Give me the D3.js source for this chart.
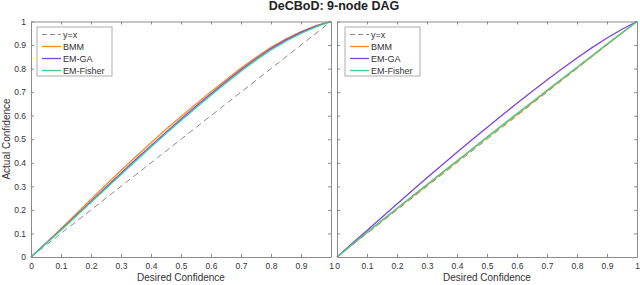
<!DOCTYPE html>
<html lang="en">
<head>
  <meta charset="UTF-8">
  <title>DeCBoD: 9-node DAG</title>
  <script src="https://d3js.org/d3.v7.min.js"></script>
  <style>
    body { margin: 0; background: #fff; }
    text { font-family: "Liberation Sans", Arial, sans-serif; }
  </style>
</head>
<body>
  <svg id="chart" width="640" height="285"></svg>

  <script>
    // desired confidence grid
    const desired = [0, 0.05, 0.1, 0.15, 0.2, 0.25, 0.3, 0.35, 0.4, 0.45, 0.5,
                     0.55, 0.6, 0.65, 0.7, 0.75, 0.8, 0.85, 0.9, 0.95, 1];

    // left panel actual confidence
    const leftBMM = [0, 0.06, 0.12, 0.183, 0.245, 0.307, 0.367, 0.427, 0.485, 0.542, 0.597,
                     0.65, 0.702, 0.753, 0.802, 0.848, 0.89, 0.926, 0.957, 0.982, 1];
    const leftGA = [0, 0.058, 0.116, 0.176, 0.236, 0.296, 0.356, 0.415, 0.473, 0.53, 0.586,
                    0.64, 0.693, 0.745, 0.795, 0.842, 0.885, 0.922, 0.954, 0.98, 1];
    const leftFisher = [0, 0.057, 0.114, 0.173, 0.232, 0.291, 0.35, 0.409, 0.467, 0.524, 0.58,
                        0.634, 0.687, 0.739, 0.789, 0.836, 0.879, 0.916, 0.949, 0.977, 1];

    // right panel actual confidence
    const rightBMM = [0, 0.052, 0.103, 0.154, 0.205, 0.255, 0.305, 0.356, 0.406, 0.456, 0.506,
                      0.556, 0.605, 0.655, 0.705, 0.754, 0.804, 0.853, 0.902, 0.951, 1];
    const rightGA = [0, 0.057, 0.113, 0.169, 0.225, 0.281, 0.337, 0.391, 0.445, 0.498, 0.55,
                     0.602, 0.653, 0.703, 0.752, 0.799, 0.845, 0.889, 0.93, 0.967, 1];
    const rightFisher = [0, 0.053, 0.105, 0.156, 0.207, 0.258, 0.308, 0.359, 0.409, 0.459, 0.509,
                         0.559, 0.609, 0.658, 0.708, 0.757, 0.806, 0.855, 0.904, 0.952, 1];

    const tickValues = [0, 0.1, 0.2, 0.3, 0.4, 0.5, 0.6, 0.7, 0.8, 0.9, 1];
    const tickLabels = ["0", "0.1", "0.2", "0.3", "0.4", "0.5", "0.6", "0.7", "0.8", "0.9", "1"];

    const seriesNames = ["y=x", "BMM", "EM-GA", "EM-Fisher"];
    const colors = { "y=x": "#8a8a8a", "BMM": "#ff8a1c", "EM-GA": "#7d43e0", "EM-Fisher": "#3fd08f" };

    const svg = d3.select("#chart");
    const axisColor = "#8c8c8c";

    svg.append("text")
      .attr("x", 334).attr("y", 10)
      .attr("text-anchor", "middle")
      .attr("font-size", 12.5).attr("font-weight", "bold")
      .attr("fill", "#222")
      .text("DeCBoD: 9-node DAG");

    svg.append("text")
      .attr("transform", "translate(10,139) rotate(-90)")
      .attr("text-anchor", "middle")
      .attr("font-size", 10).attr("fill", "#333")
      .text("Actual Confidence");

    const panels = [
      { x0: 31, x1: 331, showY: true, legendX: 37,
        data: { "y=x": desired, "BMM": leftBMM, "EM-GA": leftGA, "EM-Fisher": leftFisher } },
      { x0: 337, x1: 637, showY: false, legendX: 345,
        data: { "y=x": desired, "BMM": rightBMM, "EM-GA": rightGA, "EM-Fisher": rightFisher } }
    ];

    const y = d3.scaleLinear().domain([0, 1]).range([257, 21.5]);

    panels.forEach(p => {
      const x = d3.scaleLinear().domain([0, 1]).range([p.x0, p.x1]);
      const g = svg.append("g");

      const line = d3.line().x(d => x(d[0])).y(d => y(d[1]));

      seriesNames.forEach(name => {
        const pts = desired.map((d, i) => [d, p.data[name][i]]);
        g.append("path")
          .datum(pts)
          .attr("fill", "none")
          .attr("stroke", colors[name])
          .attr("stroke-width", name === "y=x" ? 1 : 1.3)
          .attr("stroke-dasharray", name === "y=x" ? "6,4" : null)
          .attr("d", line);
      });

      const fmt = (d, i) => tickLabels[i];

      const bottom = g.append("g").attr("transform", `translate(0,${y(0)})`)
        .call(d3.axisBottom(x).tickValues(tickValues).tickFormat(fmt).tickSizeInner(-3).tickSizeOuter(0).tickPadding(6));
      const top = g.append("g").attr("transform", `translate(0,${y(1)})`)
        .call(d3.axisTop(x).tickValues(tickValues).tickFormat("").tickSizeInner(-3).tickSizeOuter(0));
      const left = g.append("g").attr("transform", `translate(${p.x0},0)`)
        .call(d3.axisLeft(y).tickValues(tickValues).tickFormat(p.showY ? fmt : "").tickSizeInner(-3).tickSizeOuter(0).tickPadding(5));
      const right = g.append("g").attr("transform", `translate(${p.x1},0)`)
        .call(d3.axisRight(y).tickValues(tickValues).tickFormat("").tickSizeInner(-3).tickSizeOuter(0));

      [bottom, top, left, right].forEach(a => {
        a.selectAll("path, line").attr("stroke", axisColor);
        a.selectAll("text").attr("fill", "#333").attr("font-size", 8.5)
          .attr("font-family", "'Liberation Sans', Arial, sans-serif");
      });

      g.append("text")
        .attr("x", (p.x0 + p.x1) / 2).attr("y", 281)
        .attr("text-anchor", "middle")
        .attr("font-size", 10).attr("fill", "#333")
        .text("Desired Confidence");

      // legend
      const lg = g.append("g").attr("transform", `translate(${p.legendX},27)`);
      lg.append("rect")
        .attr("width", 75).attr("height", 49)
        .attr("fill", "#fff").attr("stroke", "#9a9a9a").attr("stroke-width", 0.8);
      seriesNames.forEach((name, i) => {
        const ly = 7.5 + i * 12;
        lg.append("line")
          .attr("x1", 5).attr("x2", 24).attr("y1", ly).attr("y2", ly)
          .attr("stroke", colors[name])
          .attr("stroke-width", name === "y=x" ? 1 : 1.3)
          .attr("stroke-dasharray", name === "y=x" ? "5,3" : null);
        lg.append("text")
          .attr("x", 26).attr("y", ly + 3)
          .attr("font-size", 9).attr("fill", "#333")
          .text(name);
      });
    });
  </script>
</body>
</html>
